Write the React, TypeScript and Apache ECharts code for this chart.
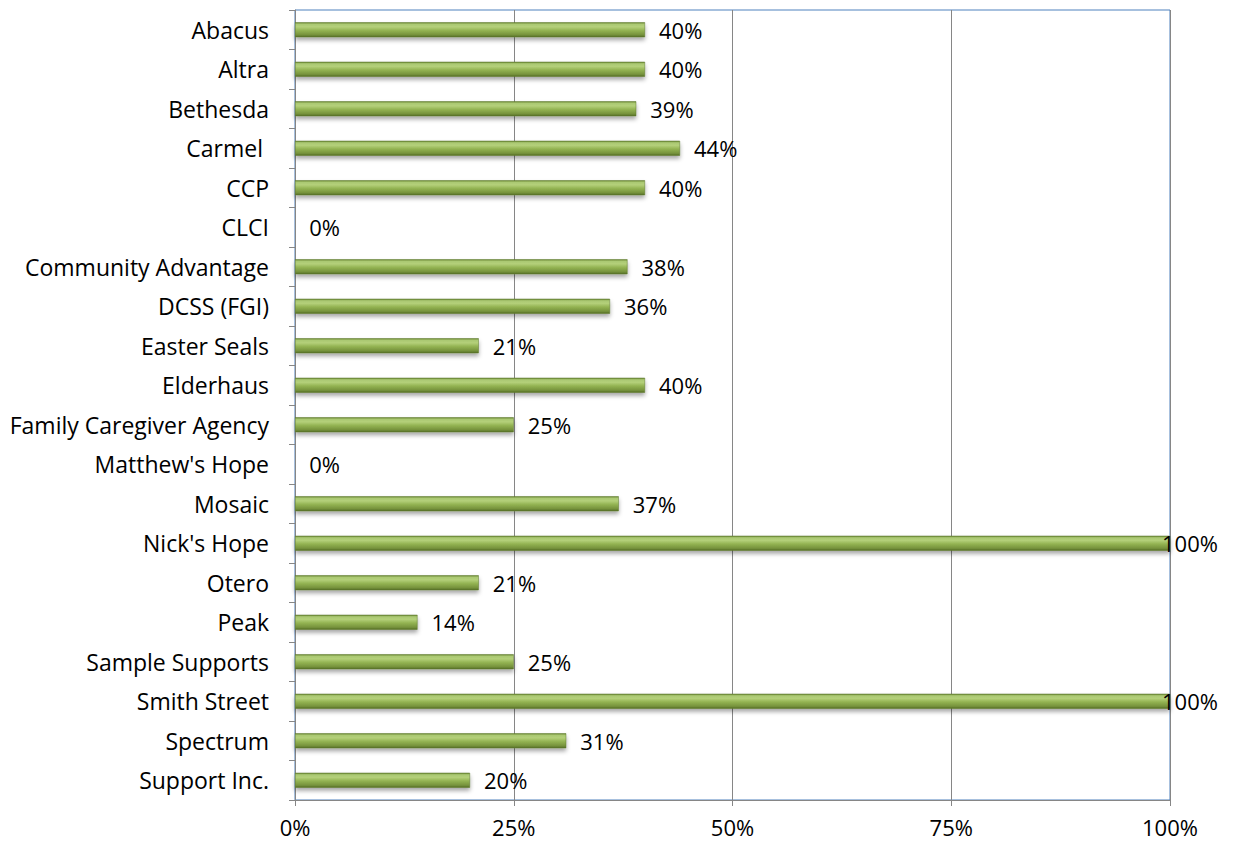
import React, { useEffect, useRef } from "react";
import * as echarts from "echarts";

const categories = [
  "Abacus", "Altra", "Bethesda", "Carmel ", "CCP", "CLCI", "Community Advantage",
  "DCSS (FGI)", "Easter Seals", "Elderhaus", "Family Caregiver Agency", "Matthew's Hope",
  "Mosaic", "Nick's Hope", "Otero", "Peak", "Sample Supports", "Smith Street",
  "Spectrum", "Support Inc.",
];
const values = [40, 40, 39, 44, 40, 0, 38, 36, 21, 40, 25, 0, 37, 100, 21, 14, 25, 100, 31, 20];
const xTicks = [0, 25, 50, 75, 100];

export default function App() {
  const ref = useRef<HTMLDivElement>(null);
  useEffect(() => {
    if (!ref.current) return;
    const chart = echarts.init(ref.current, undefined, { renderer: "svg" });
    const font = "'Open Sans', sans-serif";
    const barColor = new echarts.graphic.LinearGradient(0, 0, 0, 1, [
      { offset: 0, color: "#67832f" },
      { offset: 0.12, color: "#aac872" },
      { offset: 0.3, color: "#b4d07a" },
      { offset: 0.55, color: "#93b352" },
      { offset: 0.85, color: "#76923c" },
      { offset: 1, color: "#536c23" },
    ]);
    chart.setOption({
      animation: false,
      grid: {
        left: 295, right: 64, top: 10, bottom: 48,
        show: true, borderColor: "#4f81bd", borderWidth: 1, backgroundColor: "transparent",
      },
      xAxis: {
        type: "value", min: 0, max: 100, interval: 25,
        axisLine: { show: true, onZero: false, lineStyle: { color: "#868686" } },
        axisTick: { show: true, length: 6, lineStyle: { color: "#868686" } },
        splitLine: { show: true, lineStyle: { color: "#868686" } },
        axisLabel: {
          fontFamily: font, fontSize: 22, color: "#000", margin: 16,
          formatter: (v: number) => (xTicks.includes(v) ? v + "%" : ""),
        },
      },
      yAxis: {
        type: "category", inverse: true, data: categories,
        axisLine: { show: true, lineStyle: { color: "#868686" } },
        axisTick: { show: true, length: 6, lineStyle: { color: "#868686" } },
        axisLabel: { fontFamily: font, fontSize: 23, color: "#000", margin: 26 },
      },
      series: [
        {
          type: "bar",
          barWidth: 15,
          data: values.map((v) => ({
            value: v,
            label: v >= 100 ? { offset: [-22, 0] } : undefined,
          })),
          itemStyle: {
            color: barColor,
            borderColor: "#5f7a2c",
            borderWidth: 0.5,
            shadowColor: "rgba(0,0,0,0.35)",
            shadowBlur: 4,
            shadowOffsetY: 3,
          },
          label: {
            show: true, position: "right", distance: 14,
            fontFamily: font, fontSize: 22, color: "#000",
            formatter: (p: any) => p.value + "%",
          },
        },
      ],
    });
    return () => chart.dispose();
  }, []);
  return <div ref={ref} style={{ width: 1234, height: 848, position: "absolute", left: 0, top: 0 }} />;
}
